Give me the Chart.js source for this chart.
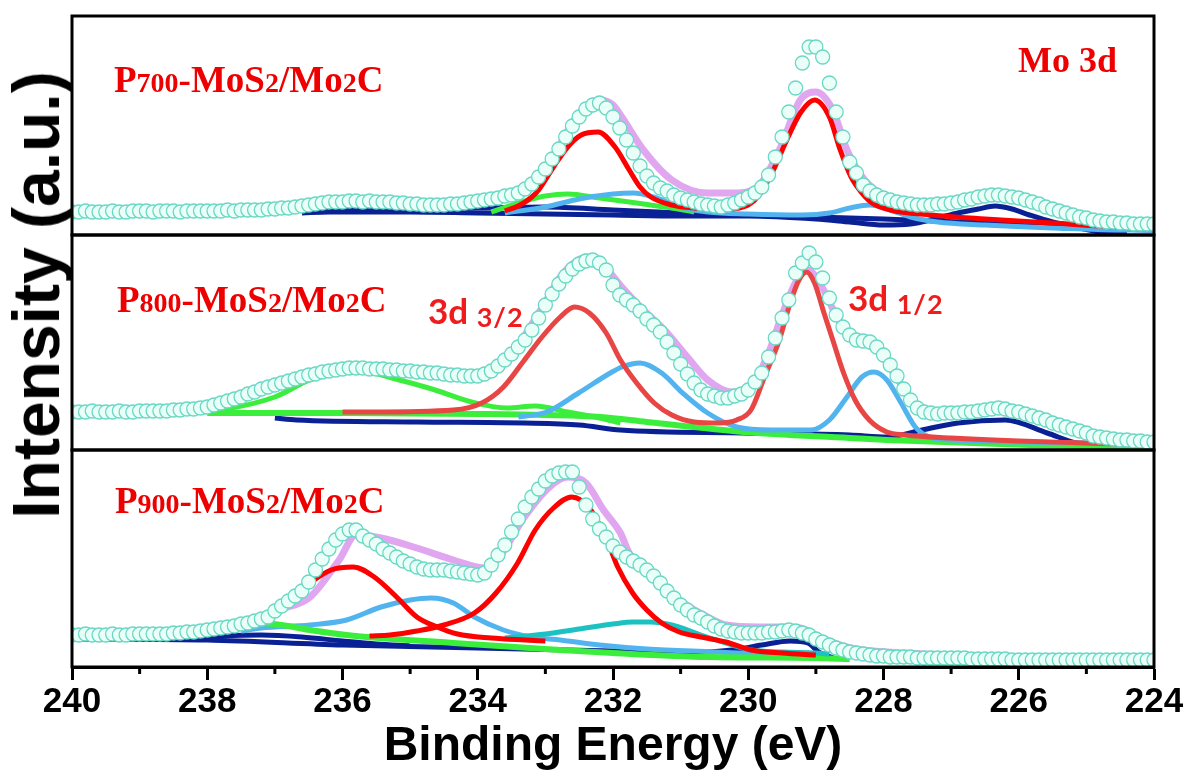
<!DOCTYPE html>
<html>
<head>
<meta charset="utf-8">
<script src="https://cdn.jsdelivr.net/npm/chart.js@4.4.1/dist/chart.umd.min.js"></script>
<style>
  html, body { margin: 0; padding: 0; background: #fff; }
  #wrap { position: relative; width: 1188px; height: 778px; overflow: hidden; background: #fff; }
  #wrap canvas { position: absolute; left: 0; top: 0; }
  .lbl { position: absolute; color: #ee0000; font-family: "Liberation Serif", "Times New Roman", serif; font-weight: bold; font-size: 37px; line-height: 1; white-space: nowrap; }
  .lbl small { font-size: 28px; }
  .fit { position: absolute; color: #f01c1c; font-family: Lato, "Open Sans", sans-serif; font-weight: bold; font-size: 35px; line-height: 1; white-space: nowrap; }
  .fit small { font-size: 27px; position: relative; top: 3px; letter-spacing: 1px; }
  #ytitle { position: absolute; left: 36px; top: 295px; transform: translate(-50%, -50%) rotate(-90deg); font: bold 66px "Liberation Sans", Arial, sans-serif; color: #000; white-space: nowrap; }
</style>
</head>
<body>
<div id="wrap">
  <canvas id="panel1" width="1188" height="778"></canvas>
  <canvas id="panel2" width="1188" height="778"></canvas>
  <canvas id="panel3" width="1188" height="778"></canvas>
  <div class="lbl" style="left:114px; top:61px;">P<small>700</small>-MoS<small>2</small>/Mo<small>2</small>C</div>
  <div class="lbl" style="left:1018px; top:42px; font-size:36px;">Mo 3d</div>
  <div class="lbl" style="left:117px; top:281px;">P<small>800</small>-MoS<small>2</small>/Mo<small>2</small>C</div>
  <div class="fit" style="left:428px; top:293px;">3d <small>3/2</small></div>
  <div class="fit" style="left:848px; top:280px;">3d <small>1/2</small></div>
  <div class="lbl" style="left:115px; top:482px;">P<small>900</small>-MoS<small>2</small>/Mo<small>2</small>C</div>
  <div id="ytitle">Intensity (a.u.)</div>
</div>
<script>
// binding energy grid of the measured points (eV)
const energy = [
  240.0, 239.9, 239.8, 239.7, 239.6, 239.5, 239.4, 239.3, 239.2, 239.1,
  239.0, 238.9, 238.8, 238.7, 238.6, 238.5, 238.4, 238.3, 238.2, 238.1,
  238.0, 237.9, 237.8, 237.7, 237.6, 237.5, 237.4, 237.3, 237.2, 237.1,
  237.0, 236.9, 236.8, 236.7, 236.6, 236.5, 236.4, 236.3, 236.2, 236.1,
  236.0, 235.9, 235.8, 235.7, 235.6, 235.5, 235.4, 235.3, 235.2, 235.1,
  235.0, 234.9, 234.8, 234.7, 234.6, 234.5, 234.4, 234.3, 234.2, 234.1,
  234.0, 233.9, 233.8, 233.7, 233.6, 233.5, 233.4, 233.3, 233.2, 233.1,
  233.0, 232.9, 232.8, 232.7, 232.6, 232.5, 232.4, 232.3, 232.2, 232.1,
  232.0, 231.9, 231.8, 231.7, 231.6, 231.5, 231.4, 231.3, 231.2, 231.1,
  231.0, 230.9, 230.8, 230.7, 230.6, 230.5, 230.4, 230.3, 230.2, 230.1,
  230.0, 229.9, 229.8, 229.7, 229.6, 229.5, 229.4, 229.3, 229.2, 229.1,
  229.0, 228.9, 228.8, 228.7, 228.6, 228.5, 228.4, 228.3, 228.2, 228.1,
  228.0, 227.9, 227.8, 227.7, 227.6, 227.5, 227.4, 227.3, 227.2, 227.1,
  227.0, 226.9, 226.8, 226.7, 226.6, 226.5, 226.4, 226.3, 226.2, 226.1,
  226.0, 225.9, 225.8, 225.7, 225.6, 225.5, 225.4, 225.3, 225.2, 225.1,
  225.0, 224.9, 224.8, 224.7, 224.6, 224.5, 224.4, 224.3, 224.2, 224.1,
  224.0
];

// measured intensity (arb. units) for each sample, same grid as energy
const p700Raw = [
  23, 23, 24, 23, 23, 23, 24, 23, 23, 24,
  24, 24, 23, 24, 24, 24, 23, 24, 24, 24,
  24, 24, 24, 25, 24, 25, 25, 25, 25, 26,
  26, 27, 27, 28, 29, 30, 31, 32, 33, 33,
  33, 34, 34, 33, 34, 33, 33, 33, 32, 32,
  31, 31, 30, 30, 30, 30, 31, 31, 32, 33,
  34, 35, 36, 37, 39, 40, 42, 46, 51, 58,
  66, 76, 86, 98, 109, 118, 126, 130, 132, 127,
  118, 107, 95, 82, 69, 59, 52, 47, 44, 40,
  37, 35, 33, 31, 30, 29, 28, 30, 32, 35,
  38, 42, 48, 60, 78, 98, 123, 147, 172, 188,
  188, 178, 152, 123, 98, 73, 62, 50, 44, 40,
  37, 35, 33, 32, 31, 30, 30, 30, 31, 31,
  32, 33, 35, 36, 38, 39, 40, 40, 39, 38,
  37, 35, 33, 31, 28, 26, 24, 22, 20, 18,
  17, 15, 14, 13, 13, 12, 12, 11, 11, 11,
  11
];
const p800Raw = [
  38, 38, 38, 39, 38, 38, 38, 39, 38, 38,
  39, 39, 39, 39, 39, 40, 40, 41, 41, 42,
  43, 45, 47, 49, 51, 53, 56, 58, 61, 63,
  65, 67, 69, 71, 73, 75, 76, 78, 79, 80,
  81, 82, 82, 82, 81, 81, 81, 80, 80, 79,
  79, 78, 78, 77, 77, 76, 75, 75, 74, 74,
  74, 76, 79, 84, 90, 96, 103, 110, 120, 132,
  145, 156, 166, 174, 181, 186, 189, 190, 187, 180,
  165, 155, 150, 145, 139, 131, 125, 118, 108, 97,
  86, 76, 67, 60, 56, 54, 52, 52, 54, 56,
  60, 68, 77, 93, 112, 132, 150, 177, 187, 197,
  188, 172, 152, 135, 123, 115, 110, 109, 108, 103,
  95, 85, 74, 61, 50, 42, 38, 37, 36, 37,
  37, 37, 38, 38, 39, 40, 41, 42, 41, 39,
  38, 36, 34, 32, 30, 27, 25, 23, 21, 19,
  17, 14, 13, 12, 11, 10, 10, 9, 9, 8,
  8
];
const p900Raw = [
  32, 32, 33, 32, 32, 32, 33, 32, 32, 33,
  33, 33, 33, 33, 33, 34, 34, 35, 35, 36,
  37, 38, 39, 40, 41, 43, 44, 46, 48, 50,
  56, 61, 66, 71, 76, 85, 97, 108, 118, 127,
  133, 137, 137, 131, 127, 123, 118, 114, 110, 106,
  103, 100, 98, 97, 97, 97, 96, 95, 94, 93,
  92, 94, 102, 112, 122, 135, 148, 160, 170, 178,
  186, 191, 194, 195, 195, 180, 162, 148, 138, 130,
  121, 115, 110, 106, 102, 97, 91, 84, 76, 69,
  62, 57, 52, 49, 45, 41, 38, 36, 35, 34,
  34, 34, 34, 35, 35, 36, 37, 36, 34, 32,
  28, 25, 22, 19, 17, 15, 14, 13, 12, 11,
  11, 10, 10, 10, 10, 9, 9, 9, 9, 9,
  9, 9, 9, 8, 8, 8, 8, 8, 8, 7,
  7, 7, 7, 7, 7, 7, 7, 7, 7, 7,
  7, 7, 7, 7, 7, 7, 7, 7, 7, 7,
  7
];

// fitted curves, [energy, intensity] pairs
const p700Envelope = [[240,23],[238,24],[237,25],[236.3,32],[235.8,34],[235,31],[234.6,30],[234,34],[233.6,39],[233.3,46],[233,66],[232.8,88],[232.6,112],[232.4,129],[232.2,135],[232,130],[231.87,118],[231.55,85],[231.13,55],[230.6,42],[230.2,42],[229.86,48],[229.54,85],[229.23,135],[229,143],[228.75,125],[228.54,85],[228.28,55],[227.95,38],[227.58,32],[227.2,31],[226.8,35],[226.4,39],[226,35],[225.5,25],[225,17],[224.5,12],[224,11]];
const p700Red = [[233.6,24],[233.4,29],[233.2,38],[233.1,45],[232.88,68],[232.67,88],[232.47,100],[232.22,103],[231.97,88],[231.76,65],[231.6,48],[231.44,38],[231.13,30],[230.8,27],[230.3,26],[230,30],[229.86,38],[229.65,62],[229.43,95],[229.23,122],[229.02,135],[228.8,118],[228.64,85],[228.48,58],[228.32,42],[228.17,32],[227.9,25],[227.3,20],[226.5,16],[225.5,12],[224.5,8],[224,7]];
const p700Blue = [[233.6,22],[233,28],[232.5,36],[232,41],[231.7,42],[231.4,38],[231,28],[230.6,23],[230,21],[229.2,20],[228.8,22],[228.5,27],[228.2,30],[227.9,25],[227.6,18],[227.2,13],[226.5,10],[225.5,7],[224.5,5],[224,5]];
const p700Green = [[233.8,23],[233.35,33],[233,39],[232.67,41],[232.2,37],[231.65,32],[231.13,27],[230.8,23]];
const p700Navy = [[236.6,22],[236.2,23],[235,23],[234,22],[233,21],[232,20],[231,19],[230,19],[229,16],[228.5,13],[228,10],[227.6,11],[227.2,17],[226.9,22],[226.6,26],[226.35,29],[226.1,26],[225.84,20],[225.5,13],[225.3,10],[224.8,3],[224.4,2]];
const p700Back = [[236.5,24],[234,27],[233,28],[232,25],[231,22],[229.5,19],[228,16],[226.5,12],[225,7],[224,5]];

const p800Envelope = [[240,38],[238.5,39],[238,43],[237,65],[236.2,79],[235.8,82],[235,79],[234.2,75],[233.9,76],[233.6,88],[233.35,110],[233,148],[232.78,173],[232.6,186],[232.4,193],[232.18,187],[231.87,163],[231.55,140],[231.24,120],[230.9,93],[230.6,70],[230.24,58],[229.96,63],[229.7,97],[229.49,137],[229.28,170],[229.12,180],[228.91,163],[228.69,133],[228.49,113],[228.28,107],[228.06,97],[227.85,77],[227.58,50],[227.32,40],[227,38],[226.6,40],[226.3,42],[226,38],[225.5,28],[225,18],[224.5,11],[224,8]];
const p800Red = [[236,38],[235.57,38],[234.36,40],[233.94,47],[233.62,63],[233.31,90],[233.05,113],[232.78,133],[232.57,143],[232.35,137],[232.1,117],[231.89,90],[231.65,67],[231.39,47],[231.13,35],[230.8,28],[230.43,27],[230.17,30],[229.96,40],[229.76,73],[229.54,110],[229.38,147],[229.25,170],[229.14,178],[229.02,167],[228.88,137],[228.75,110],[228.59,77],[228.42,50],[228.21,30],[227.95,18],[227.68,15],[227,12],[226,9],[225,7],[224,5]];
const p800Blue = [[233.4,33],[232.98,38],[232.51,57],[232.04,77],[231.87,83],[231.6,87],[231.28,77],[230.97,57],[230.6,37],[230.17,23],[229.65,20],[229.07,20],[228.8,30],[228.54,53],[228.32,73],[228.14,78],[227.95,70],[227.74,47],[227.53,23],[227.32,13],[227,10],[226,8],[225,7],[224.5,6]];
const p800Green = [[238.3,37],[237.8,40],[237,53],[236.48,70],[235.84,80],[235.16,70],[234.63,60],[234.09,48],[233.57,42],[233.15,44],[232.67,38],[232.2,32],[231.89,27]];
const p800GreenBase = [[238,37],[236,37],[234,36],[233,35],[232.18,33],[231.5,28],[230.07,18],[228.5,12],[227.95,10],[225.84,5],[224,3]];
const p800Navy = [[237,32],[236.68,30],[234.9,28],[233.31,27],[232.5,25],[231.89,20],[230.07,17],[228.5,15],[227.95,13],[227.43,20],[226.9,27],[226.2,30],[225.58,17],[225.15,7],[224.8,4]];

const p900Envelope = [[240,32],[238.5,33],[237.53,44],[236.9,58],[236.48,70],[236.05,107],[235.8,132],[235.43,129],[234.9,119],[234.36,107],[233.89,99],[233.68,110],[233.31,150],[232.94,180],[232.67,190],[232.4,184],[232.14,157],[231.89,134],[231.76,114],[231.4,92],[231,66],[230.6,50],[230.33,42],[229.86,40],[229.54,40],[229.23,39],[228.91,29],[228.49,19],[227.95,15],[227,12],[226,10],[225,9],[224,8]];
const p900RedA = [[237.6,38],[237.4,41],[237.2,46],[236.9,60],[236.48,84],[236.17,97],[235.84,100],[235.53,90],[235.2,70],[234.9,50],[234.6,40],[234.3,33],[233.8,29],[233.3,27],[233,26]];
const p900RedB = [[235.6,31],[235.3,32],[234.9,36],[234.5,42],[234.05,54],[233.73,74],[233.41,104],[233.15,137],[232.88,159],[232.61,170],[232.35,159],[232.09,127],[231.93,100],[231.71,74],[231.5,57],[231.28,44],[231.02,35],[230.7,30],[230.33,25],[229.96,17],[229.5,14],[229,12]];
const p900Blue = [[237.5,36],[237.2,39],[236.48,42],[235.94,47],[235.43,60],[235,67],[234.69,69],[234.36,64],[234.05,50],[233.62,37],[233.2,30],[232.78,27],[232.2,22],[231.5,18],[230.5,15],[229.5,12],[229,11]];
const p900Teal = [[233.6,29],[233,33],[232.5,38],[232,43],[231.7,45],[231.45,45],[231.13,42],[230.7,32],[230.33,24],[229.96,17],[229.5,15],[229,14],[228.8,13]];
const p900Navy = [[240,28],[238,27],[236,22],[234,19],[232,16],[231,14],[230.24,17],[229.8,22],[229.38,26],[229.12,24],[228.96,15],[228.7,8]];
const p900NavyBump = [[238.6,28],[237.8,31],[237.2,32],[236.6,30],[236,26],[235.5,23],[235,21]];
const p900Green = [[238.3,33],[237.8,38],[237.2,44],[236.9,42],[236.48,37],[235.94,32],[234.36,24],[232.78,17],[232,14],[230.6,10],[229,9],[228.5,8]];

const majorTicks = [240, 238, 236, 234, 232, 230, 228, 226, 224];
const minorTicks = [239, 237, 235, 233, 231, 229, 227, 225];

const COLORS = {
  red: "#ff0000",
  redSoft: "#e84545",
  blue: "#52b4ee",
  navy: "#0a2196",
  green: "#3cee3c",
  teal: "#1cc2c2",
  envelope: "#e0a6f0"
};

// border round each panel
const framePlugin = {
  id: "framePlugin",
  afterDatasetsDraw(chart) {
    const { ctx, chartArea: a } = chart;
    ctx.save();
    ctx.strokeStyle = "#000";
    ctx.lineWidth = 3;
    ctx.strokeRect(a.left, a.top, a.right - a.left, a.bottom - a.top);
    ctx.restore();
  }
};

// short unlabelled ticks between the numbered ones
const minorTickPlugin = {
  id: "minorTickPlugin",
  afterDraw(chart) {
    const x = chart.scales.x;
    const ctx = chart.ctx;
    ctx.save();
    ctx.strokeStyle = "#000";
    ctx.lineWidth = 3;
    minorTicks.forEach((v) => {
      const px = x.getPixelForValue(v);
      ctx.beginPath();
      ctx.moveTo(px, x.top);
      ctx.lineTo(px, x.top + 7);
      ctx.stroke();
    });
    ctx.restore();
  }
};

function curve(pts, color, width = 5) {
  return {
    data: pts.map((p) => ({ x: p[0], y: p[1] })),
    borderColor: color,
    borderWidth: width,
    pointRadius: 0,
    cubicInterpolationMode: "monotone",
    fill: false
  };
}

function dots(vals) {
  return {
    data: vals.map((v, i) => ({ x: energy[i], y: v })),
    showLine: false,
    pointRadius: 7,
    pointBackgroundColor: "#ebfff9",
    pointBorderColor: "#6ad8c4",
    pointBorderWidth: 1.3
  };
}

function makePanel(id, top, bottom, datasets, withAxis) {
  const xScale = {
    type: "linear",
    min: 224,
    max: 240,
    reverse: true,
    display: withAxis
  };
  if (withAxis) {
    Object.assign(xScale, {
      afterBuildTicks(scale) {
        scale.ticks = majorTicks.map((v) => ({ value: v }));
      },
      afterFit(scale) {
        scale.height = 778 - bottom;
      },
      grid: {
        display: true,
        drawOnChartArea: false,
        drawTicks: true,
        tickLength: 13,
        tickWidth: 3,
        tickColor: "#000"
      },
      border: { display: true, width: 3, color: "#000" },
      ticks: {
        autoSkip: false,
        maxRotation: 0,
        padding: 1,
        color: "#000",
        font: { family: "'Liberation Sans', Arial, sans-serif", size: 35, weight: "bold" }
      },
      title: {
        display: true,
        text: "Binding Energy (eV)",
        color: "#000",
        padding: { top: 0, bottom: 2 },
        font: { family: "'Liberation Sans', Arial, sans-serif", size: 48, weight: "bold" }
      }
    });
  }

  return new Chart(document.getElementById(id), {
    type: "line",
    data: { datasets },
    options: {
      responsive: false,
      animation: false,
      devicePixelRatio: 1,
      events: [],
      layout: {
        padding: { left: 72, right: 34, top: top, bottom: withAxis ? 0 : 778 - bottom }
      },
      plugins: { legend: { display: false }, tooltip: { enabled: false } },
      scales: {
        x: xScale,
        y: { display: false, min: 0, max: bottom - top }
      }
    },
    plugins: withAxis ? [framePlugin, minorTickPlugin] : [framePlugin]
  });
}

// first dataset ends up on top
makePanel("panel1", 16, 235, [
  dots(p700Raw),
  curve(p700Red, COLORS.red, 5),
  curve(p700Blue, COLORS.blue, 5),
  curve(p700Green, COLORS.green, 5),
  curve(p700Navy, COLORS.navy, 5),
  curve(p700Back, COLORS.navy, 5),
  curve(p700Envelope, COLORS.envelope, 7)
], false);

makePanel("panel2", 235, 450, [
  dots(p800Raw),
  curve(p800Red, COLORS.redSoft, 5),
  curve(p800Blue, COLORS.blue, 5),
  curve(p800Green, COLORS.green, 5),
  curve(p800GreenBase, COLORS.green, 6),
  curve(p800Navy, COLORS.navy, 5),
  curve(p800Envelope, COLORS.envelope, 7)
], false);

makePanel("panel3", 450, 667, [
  dots(p900Raw),
  curve(p900RedA, COLORS.red, 5),
  curve(p900RedB, COLORS.red, 5),
  curve(p900Teal, COLORS.teal, 5),
  curve(p900Green, COLORS.green, 6),
  curve(p900Blue, COLORS.blue, 5),
  curve(p900Navy, COLORS.navy, 5),
  curve(p900NavyBump, COLORS.navy, 5),
  curve(p900Envelope, COLORS.envelope, 7)
], true);
</script>
</body>
</html>
